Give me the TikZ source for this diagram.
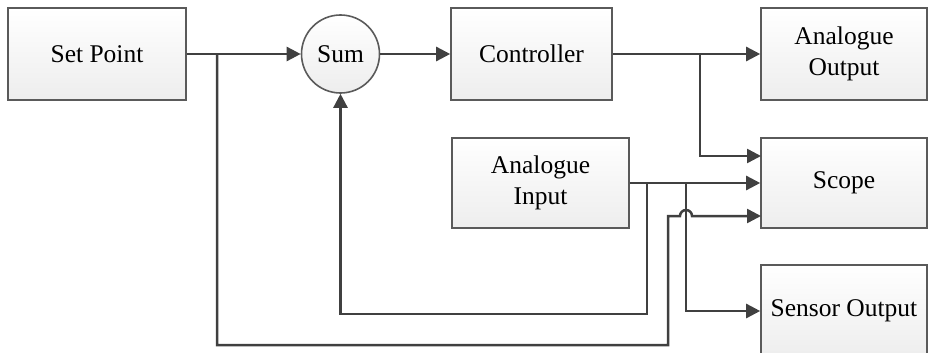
\documentclass[tikz,border=0pt]{standalone}
\usepackage{fontspec}
\setmainfont{Liberation Serif}
\newfontfamily\tnr{Liberation Serif}
\usetikzlibrary{arrows.meta}
\definecolor{linec}{HTML}{404040}
\definecolor{boxc}{HTML}{5A5A5A}
\tikzset{
  lbl/.style={font=\tnr\fontsize{25.5}{31.5}\selectfont},
  blk/.style={draw=boxc, line width=1.6pt, top color=white, bottom color=black!7,
    minimum width=#1, align=center, inner sep=0pt, lbl},
  blk/.default=166pt,
  conn/.style={draw=linec, line width=2.5pt},
  arr/.style={conn, -{Triangle[length=14pt,width=14pt]}},
}
\begin{document}
\begin{tikzpicture}[x=1pt,y=-1pt]
\useasboundingbox (0,0) rectangle (928,353);
\node[blk=178pt, minimum height=92pt] (sp) at (97,54) {Set Point};
\node[draw=boxc, line width=1.6pt, circle, minimum size=78pt, inner sep=0pt,
      top color=white, bottom color=black!7, lbl] (sum) at (340.5,54) {Sum};
\node[blk=161pt, minimum height=92pt] (ctrl) at (531.5,54) {Controller};
\node[blk=166pt, minimum height=92pt] (ao) at (844,54) {Analogue\\Output};
\node[blk=177pt, minimum height=90pt] (ai) at (540.5,183) {Analogue\\Input};
\node[blk=166pt, minimum height=90pt] (scope) at (844,183) {Scope};
\node[blk=166pt, minimum height=92pt] (so) at (844,311) {Sensor Output};

\coordinate (j1) at (217,54);
\coordinate (j2) at (647,183);
\coordinate (j3) at (686,183);
\coordinate (j4) at (700,54);
\coordinate (l1) at (217,345);
\coordinate (l2) at (668,345);
\coordinate (l3) at (668,216);
\coordinate (h1) at (680,216);
\coordinate (s3) at (761,216);
\coordinate (s1) at (761,156);
\coordinate (k1) at (647,314);

\draw[arr] (sp.east) -- (sum.west);
\draw[arr] (sum.east) -- (ctrl.west);
\draw[arr] (ctrl.east) -- (ao.west);
\draw[arr] (j4) |- (s1);
\draw[arr] (ai.east) -- (scope.west);
\draw[arr] (j2) -- (k1) -| (sum.south);
\draw[arr] (j3) |- (so.west);
\draw[arr] (j1) -- (l1) -- (l2) -- (l3) -- (h1) arc[start angle=180, end angle=0, radius=6pt] -- (s3);
\end{tikzpicture}
\end{document}
